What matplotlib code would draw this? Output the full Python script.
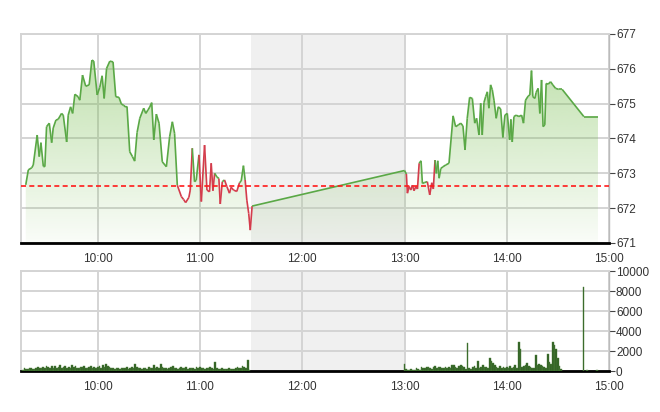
import matplotlib
matplotlib.use("Agg")
import matplotlib.pyplot as plt
import numpy as np
from matplotlib.collections import LineCollection

plt.rcParams['font.family'] = ['Liberation Sans', 'DejaVu Sans']

# minutes since midnight, index value
price_t = [557.8, 559.3, 561.3, 562.2, 564.5, 565.7, 566.7, 568.1, 569.0, 570.0,
           571.6, 573.0, 573.9, 575.5, 576.8, 578.8, 579.8, 581.8, 582.7, 584.1,
           585.3, 586.6, 588.5, 589.5, 591.1, 593.0, 595.0, 596.6, 597.7, 599.7,
           601.2, 602.6, 603.8, 605.2, 607.1, 609.0, 610.6, 612.5, 613.9, 615.3,
           616.5, 617.2, 618.8, 620.4, 621.7, 623.1, 624.7, 627.0, 628.2, 629.5,
           630.5, 631.7, 632.9, 634.4, 636.0, 637.9, 640.3, 642.2, 643.8, 645.1,
           646.7, 649.1, 650.4, 651.6, 653.5, 654.3, 655.5, 656.8, 657.8, 659.4,
           660.8, 662.7, 664.1, 665.6, 666.6, 667.6, 668.6, 669.9, 671.1, 671.9,
           673.1, 674.4, 675.8, 677.3, 678.3, 679.7, 681.6, 683.2, 684.2, 685.5,
           686.5, 687.5, 688.6, 689.5, 690.6,
           780.0, 781.1, 781.7, 782.7, 783.7, 784.6, 785.6, 786.6, 787.6, 788.6,
           789.7, 790.5, 791.9, 793.4, 794.8, 796.0, 796.9, 797.9, 798.7, 799.5,
           800.3, 801.3, 802.6, 804.2, 806.1, 808.5, 810.0, 811.6, 813.0, 814.3,
           815.5, 816.8, 818.2, 819.8, 821.2, 822.3, 823.7, 824.7, 825.6, 826.6,
           827.6, 828.6, 829.5, 830.5, 831.5, 832.5, 833.8, 835.0, 836.4, 837.7,
           838.9, 840.3, 841.7, 842.4, 843.2, 844.2, 845.5, 847.1, 848.7, 849.8,
           851.0, 852.6, 853.5, 854.5, 855.3, 856.5, 857.2, 858.4, 859.4, 860.4,
           861.3, 862.3, 863.1, 864.3, 865.7, 867.0, 868.6, 870.5, 872.5, 885.2,
           893.5]
price_v = [672.67, 673.10, 673.16, 673.24, 674.10, 673.48, 673.88, 673.20, 673.19, 674.34,
           674.44, 673.88, 674.30, 674.53, 674.55, 674.72, 674.67, 673.90, 674.67, 674.91,
           674.72, 675.27, 675.20, 675.10, 675.82, 675.50, 675.54, 676.25, 676.22, 675.25,
           675.47, 675.80, 675.15, 676.01, 676.22, 676.20, 675.20, 675.18, 674.99, 674.95,
           674.90, 674.92, 673.62, 673.48, 673.35, 674.17, 674.58, 674.87, 674.72, 674.82,
           674.90, 675.03, 673.96, 674.70, 674.44, 673.33, 673.19, 674.05, 674.48, 674.15,
           672.66, 672.33, 672.25, 672.16, 672.31, 672.52, 673.72, 672.76, 672.80, 673.53,
           672.19, 673.81, 672.52, 672.47, 673.29, 672.50, 673.00, 672.90, 672.85, 672.12,
           672.76, 672.81, 672.62, 672.43, 672.60, 672.52, 672.48, 672.73, 672.78, 673.22,
           672.81, 672.23, 671.85, 671.37, 672.06,
           673.08, 672.98, 672.43, 672.62, 672.52, 672.66, 672.50, 672.62, 672.55, 673.29,
           673.36, 672.71, 672.74, 672.76, 672.38, 672.73, 672.55, 673.38, 673.00, 673.36,
           672.86, 673.14, 673.19, 673.24, 673.29, 674.65, 674.34, 674.39, 674.44, 674.36,
           673.67, 674.58, 675.18, 675.15, 674.44, 674.58, 674.10, 675.01, 674.10, 675.03,
           675.20, 675.34, 674.87, 675.54, 675.40, 675.10, 674.58, 674.91, 674.85, 674.03,
           674.67, 674.72, 673.96, 674.55, 673.90, 674.63, 674.67, 674.63, 674.67, 674.44,
           675.10, 675.22, 675.25, 675.95, 675.20, 675.15, 675.32, 675.44, 674.72, 675.68,
           674.34, 674.39, 675.58, 675.56, 675.63, 675.54, 675.44, 675.41, 675.41, 674.63,
           674.63]
ref_value = 672.65

# per-minute volume
vol_morning = [0, 150, 300, 250, 200, 350, 300, 250, 200, 300, 400, 350, 300, 450, 300, 500, 400, 300, 550, 350,
               500, 300, 450, 600, 350, 400, 550, 300, 450, 350, 600, 400, 500, 350, 300, 450, 400, 550, 350, 300,
               400, 500, 350, 450, 300, 400, 550, 350, 600, 450, 700, 500, 400, 350, 300, 250, 300, 350, 250, 300,
               350, 300, 400, 250, 350, 450, 300, 700, 400, 350, 300, 250, 300, 350, 250, 400, 300, 350, 600, 300,
               400, 350, 700, 450, 300, 350, 250, 300, 400, 550, 300, 350, 250, 300, 400, 350, 300, 450, 250, 300,
               350, 300, 250, 400, 300, 450, 350, 300, 250, 300, 350, 400, 300, 250, 900, 300, 250, 200, 300, 250,
               250, 200, 300, 250, 200, 250, 300, 400, 350, 300, 500, 400, 300, 1100, 150]
vol_afternoon = [700, 200, 150, 100, 200, 150, 100, 300, 250, 100, 400,
                 350, 300, 400, 450, 300, 200, 400, 500, 350, 400,
                 450, 300, 350, 400, 300, 450, 350, 650, 600, 400,
                 300, 500, 650, 550, 400, 250, 2800, 300, 250, 400,
                 500, 350, 1000, 300, 400, 600, 400, 450, 300, 1300,
                 1000, 800, 600, 400, 300, 500, 350, 400, 300, 450,
                 350, 500, 300, 400, 600, 300, 2900, 2200, 400, 500,
                 600, 800, 500, 400, 300, 300, 1600, 600, 700, 600,
                 500, 400, 300, 1700, 900, 700, 2900, 2600, 2200, 1300, 500, 200]
vol_late_t = [885, 887, 893]
vol_late = [8400, 150, 100]

vol_t = list(range(555, 555 + len(vol_morning))) + list(range(780, 780 + len(vol_afternoon))) + vol_late_t
vol_v = vol_morning + vol_afternoon + vol_late

hours = [600, 660, 720, 780, 840, 900]
hour_labels = ['10:00', '11:00', '12:00', '13:00', '14:00', '15:00']

grid_c = '#d4d4d4'
lunch_c = '#f0f0f0'
txt_c = '#333333'

fig = plt.figure(figsize=(6.6, 4.12), dpi=100)
ax = fig.add_axes([0.0318, 0.4102, 0.891, 0.5073])
axv = fig.add_axes([0.0318, 0.0995, 0.891, 0.2427])

for a in (ax, axv):
    a.set_xlim(555, 900)
    a.axvspan(690, 780, color=lunch_c, zorder=0, lw=0)
    a.set_xticks(hours)
    a.set_xticklabels(hour_labels)
    a.grid(True, color=grid_c, lw=1.4, zorder=0.5)
    a.set_axisbelow(True)
    a.yaxis.tick_right()
    a.tick_params(axis='y', length=4, width=0.8, color='#444444', labelsize=8.5, labelcolor=txt_c, pad=1)
    a.tick_params(axis='x', length=0, labelsize=8.5, labelcolor=txt_c, pad=7)
    for s in ('left', 'top'):
        a.spines[s].set_color(grid_c)
        a.spines[s].set_linewidth(1.4)
    a.spines['right'].set_color('#bbbbbb')
    a.spines['right'].set_linewidth(1.0)
    a.spines['bottom'].set_color('black')
    a.spines['bottom'].set_linewidth(2)

# price panel
ax.set_ylim(671, 677)
ax.set_yticks(range(671, 678))

t = np.array(price_t)
v = np.array(price_v)
poly = ax.fill_between(t, v, 671, color='none', lw=0)
grad = np.zeros((256, 1, 4))
grad[:, 0, 0] = 120 / 255
grad[:, 0, 1] = 190 / 255
grad[:, 0, 2] = 80 / 255
grad[:, 0, 3] = np.linspace(0.04, 0.52, 256)
im = ax.imshow(grad, extent=[555, 900, 671, 677], aspect='auto', origin='lower', zorder=1,
               interpolation='bilinear')
im.set_clip_path(poly.get_paths()[0], transform=ax.transData)

pts = np.column_stack([t, v])
segs = np.stack([pts[:-1], pts[1:]], axis=1)
cols = []
for a, b, ta, tb in zip(v[:-1], v[1:], t[:-1], t[1:]):
    # the lunch-break join is drawn green
    if min(a, b) < ref_value and tb - ta < 30:
        cols.append('#d43c4c')
    else:
        cols.append('#5aa846')
ax.add_collection(LineCollection(segs, colors=cols, linewidths=1.2, zorder=3))
ax.axhline(ref_value, color='#ff1a1a', lw=1.2, ls=(0, (3, 2)), zorder=4)

# volume panel
axv.set_ylim(0, 10000)
axv.set_yticks(range(0, 10001, 2000))
axv.bar(vol_t, vol_v, width=1.0, color='#2f5f22', edgecolor='#4d7f3c', lw=0.3, zorder=3)

fig.savefig('out.png', dpi=100)
